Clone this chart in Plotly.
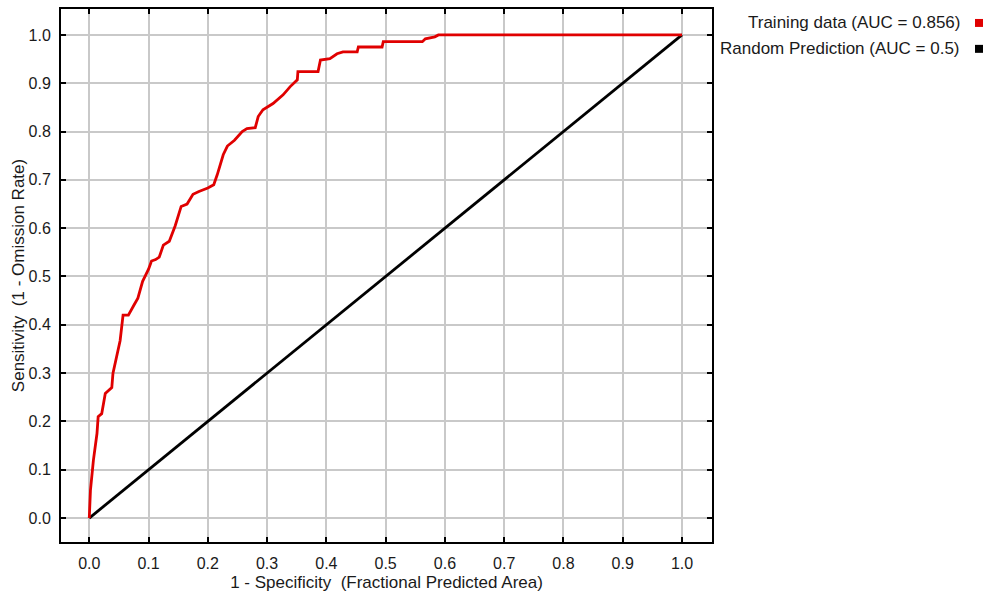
import plotly.graph_objects as go

# ROC data
train_fpr = [0, 0.002, 0.007, 0.013, 0.015, 0.021, 0.027, 0.038, 0.040, 0.052,
             0.057, 0.066, 0.075, 0.082, 0.090, 0.100, 0.105, 0.112, 0.118, 0.125,
             0.135, 0.145, 0.155, 0.165, 0.175, 0.185, 0.200, 0.210, 0.216, 0.226,
             0.233, 0.245, 0.258, 0.266, 0.280, 0.285, 0.293, 0.310, 0.327, 0.339,
             0.351, 0.352, 0.386, 0.390, 0.406, 0.418, 0.428, 0.452, 0.454, 0.494,
             0.496, 0.562, 0.567, 0.583, 0.589, 1.0]
train_tpr = [0, 0.058, 0.12, 0.175, 0.21, 0.216, 0.258, 0.27, 0.30, 0.367,
             0.42, 0.42, 0.44, 0.455, 0.49, 0.515, 0.532, 0.535, 0.54, 0.565,
             0.573, 0.605, 0.645, 0.65, 0.67, 0.676, 0.683, 0.69, 0.711, 0.752,
             0.77, 0.782, 0.80, 0.806, 0.808, 0.831, 0.845, 0.858, 0.876, 0.893,
             0.907, 0.924, 0.924, 0.948, 0.951, 0.961, 0.965, 0.965, 0.975, 0.975,
             0.986, 0.986, 0.992, 0.996, 1.0, 1.0]
random_fpr = [0, 1]
random_tpr = [0, 1]

series_names = ["Training data (AUC = 0.856)", "Random Prediction (AUC = 0.5)"]
series_colors = ["#e00000", "#000000"]

tick_vals = [0, 0.1, 0.2, 0.3, 0.4, 0.5, 0.6, 0.7, 0.8, 0.9, 1.0]
tick_text = ["0.0", "0.1", "0.2", "0.3", "0.4", "0.5", "0.6", "0.7", "0.8", "0.9", "1.0"]

x_title = "1 - Specificity  (Fractional Predicted Area)"
y_title = "Sensitivity  (1 - Omission Rate)"

W, H = 985, 599
ML, MR, MT, MB = 61, 273, 7, 57
PW, PH = W - ML - MR, H - MT - MB

fig = go.Figure()
fig.add_trace(go.Scatter(x=random_fpr, y=random_tpr, mode="lines",
                         line=dict(color=series_colors[1], width=2.8),
                         name=series_names[1], showlegend=False))
fig.add_trace(go.Scatter(x=train_fpr, y=train_tpr, mode="lines",
                         line=dict(color=series_colors[0], width=2.8),
                         name=series_names[0], showlegend=False))

font = "Liberation Sans, Arial, sans-serif"
axis_common = dict(
    tickvals=tick_vals, ticktext=tick_text,
    showgrid=True, gridcolor="#c9c9c9", gridwidth=1.5,
    zeroline=False,
    showline=True, linecolor="#000000", linewidth=2, mirror="ticks",
    ticks="inside", ticklen=5, tickwidth=1.5, tickcolor="#000000",
    tickfont=dict(family=font, size=16, color="#1a1a1a"),
)
fig.update_xaxes(range=[-0.0477, 1.0506], ticklabelstandoff=6,
                 title=dict(text=x_title,
                            font=dict(family=font, size=17, color="#1a1a1a"),
                            standoff=5),
                 **axis_common)
fig.update_yaxes(range=[-0.0495, 1.0536], ticklabelstandoff=5,
                 title=dict(text=y_title,
                            font=dict(family=font, size=17, color="#1a1a1a"),
                            standoff=0),
                 **axis_common)

# legend drawn to the right of the plot, text right-aligned with swatch after it
legend_y_px = [21, 47]
text_right_px = 962
sq_left_px, sq_size = 975, 8
shapes = []
annotations = []
for i, (name, col) in enumerate(zip(series_names, series_colors)):
    yp = 1 - (legend_y_px[i] - MT) / PH
    annotations.append(dict(text=name, xref="paper", yref="paper",
                            x=(text_right_px - ML) / PW, y=yp,
                            xanchor="right", yanchor="middle", showarrow=False,
                            font=dict(family=font, size=17, color="#1a1a1a")))
    shapes.append(dict(type="rect", xref="paper", yref="paper",
                       x0=(sq_left_px - ML) / PW, x1=(sq_left_px + sq_size - ML) / PW,
                       y0=yp - (sq_size / 2) / PH, y1=yp + (sq_size / 2) / PH,
                       fillcolor=col, line=dict(width=0)))

fig.update_layout(
    width=W, height=H,
    margin=dict(l=ML, r=MR, t=MT, b=MB),
    paper_bgcolor="white", plot_bgcolor="white",
    showlegend=False,
    annotations=annotations, shapes=shapes,
)

fig.write_html("out.html", config={"displayModeBar": False},
               post_script="document.body.style.margin='0';document.body.style.overflow='hidden';")
